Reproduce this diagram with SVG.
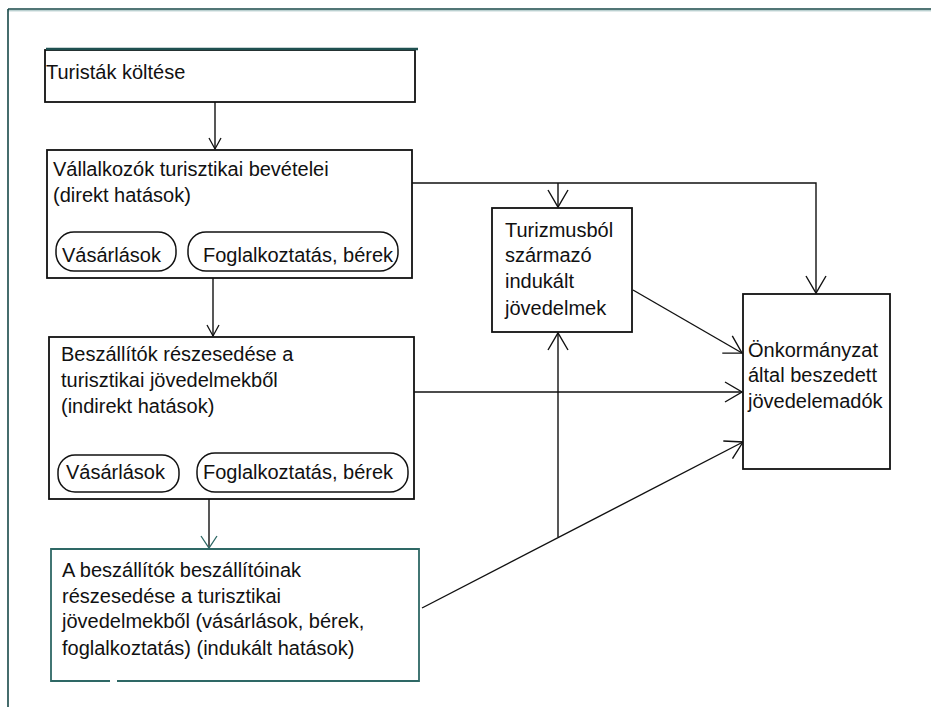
<svg xmlns="http://www.w3.org/2000/svg" width="931" height="707" viewBox="0 0 931 707">
<style>
  text { font-family: "Liberation Sans", Arial, sans-serif; font-size: 20px; fill: #111; }
  .box { fill: #fff; stroke: #111; stroke-width: 1.8; }
  .pill { fill: none; stroke: #111; stroke-width: 1.5; }
  .conn { fill: none; stroke: #111; stroke-width: 1.4; }
  .frame { fill: none; stroke: #174848; stroke-width: 1.6; }
</style>
<defs>
  <marker id="ah" markerUnits="userSpaceOnUse" viewBox="-20 -12 22 24" markerWidth="22" markerHeight="24" refX="0" refY="0" orient="auto">
    <path d="M -17 -10 L 0 0 L -17 10" fill="none" stroke="#111" stroke-width="1.4"/>
  </marker>
  <marker id="ahs" markerUnits="userSpaceOnUse" viewBox="-14 -9 16 18" markerWidth="16" markerHeight="18" refX="0" refY="0" orient="auto">
    <path d="M -11 -6 L 0 0 L -11 6" fill="none" stroke="#111" stroke-width="1.3"/>
  </marker>
  <marker id="aht" markerUnits="userSpaceOnUse" viewBox="-14 -10 16 20" markerWidth="16" markerHeight="20" refX="0" refY="0" orient="auto">
    <path d="M -12 -8 L 0 0 L -12 8" fill="none" stroke="#2e6865" stroke-width="1.3"/>
  </marker>
</defs>
<rect width="931" height="707" fill="#fff"/>
<g id="frame">
  <line class="frame" x1="8" y1="9" x2="931" y2="9"/>
  <line x1="8" y1="10.8" x2="931" y2="10.8" stroke="#9dbdbd" stroke-width="1"/>
  <line class="frame" x1="8" y1="9" x2="8" y2="707"/>
</g>
<g id="connectors">
  <line class="conn" x1="215" y1="102" x2="215" y2="149" marker-end="url(#ahs)"/>
  <line class="conn" x1="213" y1="278" x2="213" y2="336" marker-end="url(#ahs)"/>
  <line class="conn" x1="209" y1="499" x2="209" y2="548" stroke="#2e6865" marker-end="url(#aht)"/>
  <polyline class="conn" points="412,183 816,183 816,293" marker-end="url(#ah)"/>
  <line class="conn" x1="558" y1="183" x2="558" y2="207" marker-end="url(#ah)"/>
  <line class="conn" x1="633" y1="290" x2="742" y2="353" marker-end="url(#ah)"/>
  <line class="conn" x1="414" y1="392" x2="742" y2="392" marker-end="url(#ah)"/>
  <line class="conn" x1="422" y1="608" x2="743" y2="442" marker-end="url(#ah)"/>
  <line class="conn" x1="558" y1="537" x2="558" y2="333" marker-end="url(#ah)"/>
</g>
<g id="n1">
  <rect class="box" x="45" y="50" width="370" height="52"/>
  <line x1="46" y1="49" x2="418" y2="49" stroke="#1f5050" stroke-width="2.6"/>
  <text x="46" y="79">Turisták költése</text>
</g>
<g id="n2">
  <rect class="box" x="47" y="150" width="365" height="128"/>
  <text x="53" y="176">Vállalkozók turisztikai bevételei</text>
  <text x="53" y="202">(direkt hatások)</text>
  <rect class="pill" x="56" y="232" width="120" height="39" rx="18"/>
  <text x="62" y="262">Vásárlások</text>
  <rect class="pill" x="188" y="232" width="210" height="39" rx="18"/>
  <text x="203" y="262">Foglalkoztatás, bérek</text>
</g>
<g id="n3">
  <rect class="box" x="49" y="337" width="365" height="162"/>
  <text x="61" y="361">Beszállítók részesedése a</text>
  <text x="61" y="387">turisztikai jövedelmekből</text>
  <text x="61" y="413">(indirekt hatások)</text>
  <rect class="pill" x="58" y="455" width="121" height="37" rx="17"/>
  <text x="66" y="479">Vásárlások</text>
  <rect class="pill" x="197" y="453" width="211" height="39" rx="18"/>
  <text x="203" y="479">Foglalkoztatás, bérek</text>
</g>
<g id="n4">
  <path d="M 110 681 L 51 681 L 51 549 L 419 549 L 419 681 L 117 681" fill="#fff" stroke="#2e6865" stroke-width="1.8"/>
  <text x="62" y="577">A beszállítók beszállítóinak</text>
  <text x="62" y="603">részesedése a turisztikai</text>
  <text x="62" y="628">jövedelmekből (vásárlások, bérek,</text>
  <text x="62" y="655">foglalkoztatás) (indukált hatások)</text>
</g>
<g id="n5">
  <rect class="box" x="492" y="208" width="140" height="124"/>
  <text x="505" y="237">Turizmusból</text>
  <text x="505" y="262">származó</text>
  <text x="505" y="288">indukált</text>
  <text x="505" y="315">jövedelmek</text>
</g>
<g id="n6">
  <rect class="box" x="743" y="294" width="147" height="175"/>
  <text x="748" y="357">Önkormányzat</text>
  <text x="748" y="382">által beszedett</text>
  <text x="748" y="408">jövedelemadók</text>
</g>
</svg>
